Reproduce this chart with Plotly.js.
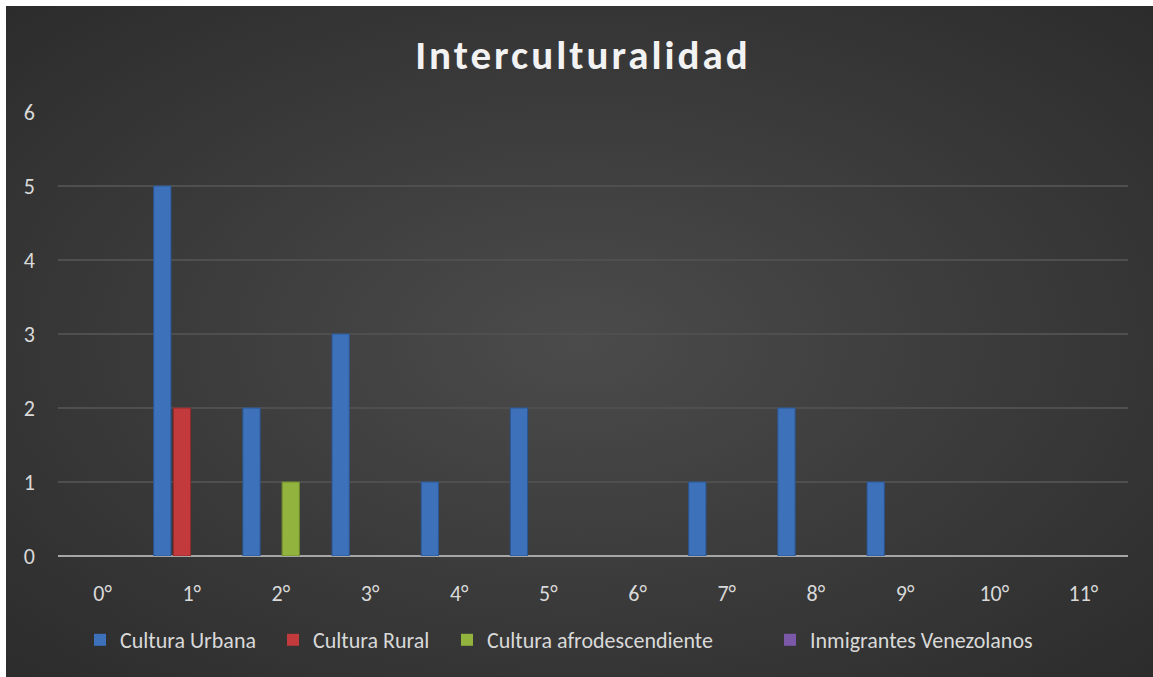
<!DOCTYPE html>
<html>
<head>
<meta charset="utf-8">
<script src="https://cdn.plot.ly/plotly-3.0.1.min.js"></script>
<style>
  html, body { margin: 0; padding: 0; background: #ffffff; }
  #wrap { position: absolute; left: 0; top: 0; width: 1153px; height: 677px; }
  #bg { position: absolute; left: 6px; top: 6px; width: 1147px; height: 671px;
        background: radial-gradient(ellipse 75% 75% at 50% 50%, #4b4b4b 0%, #3c3c3c 45%, #2a2a2a 100%); }
  #chart { position: absolute; left: 0; top: 0; width: 1153px; height: 677px; }
  #chart .gtitle { letter-spacing: 3px; }
</style>
</head>
<body>
<div id="wrap">
  <div id="bg"></div>
  <div id="chart"></div>
</div>
<script>
const categories = ["0°", "1°", "2°", "3°", "4°", "5°", "6°", "7°", "8°", "9°", "10°", "11°"];
const culturaUrbana = [0, 5, 2, 3, 1, 2, 0, 1, 2, 1, 0, 0];
const culturaRural = [0, 2, 0, 0, 0, 0, 0, 0, 0, 0, 0, 0];
const culturaAfro = [0, 0, 1, 0, 0, 0, 0, 0, 0, 0, 0, 0];
const inmigrantesVenezolanos = [0, 0, 0, 0, 0, 0, 0, 0, 0, 0, 0, 0];
const seriesNames = ["Cultura Urbana", "Cultura Rural", "Cultura afrodescendiente", "Inmigrantes Venezolanos"];
const yTicks = [0, 1, 2, 3, 4, 5, 6];

const fills = ["#3d72ba", "#c23a3c", "#93b33f", "#7c59a8"];
const edges = ["#2b5694", "#902a2c", "#6f8b2c", "#5a3e80"];
const values = [culturaUrbana, culturaRural, culturaAfro, inmigrantesVenezolanos];
const legendIds = ["legend", "legend2", "legend3", "legend4"];
const legendLeft = [80, 273, 447, 770];

const traces = values.map((v, i) => ({
  type: "bar",
  name: seriesNames[i],
  x: categories,
  y: v,
  legend: legendIds[i],
  marker: { color: fills[i], line: { color: edges[i], width: v.map(d => d ? 1 : 0) } },
  hoverinfo: "x+y+name"
}));

const font = "Calibri, Carlito, 'Open Sans', sans-serif";

const layout = {
  width: 1153,
  height: 677,
  paper_bgcolor: "rgba(0,0,0,0)",
  plot_bgcolor: "rgba(0,0,0,0)",
  margin: { l: 58, r: 25, t: 112, b: 121, pad: 0 },
  title: {
    text: "<b>Interculturalidad</b>",
    x: 583 / 1153, xref: "container", xanchor: "center",
    y: 1 - 55 / 677, yref: "container", yanchor: "middle",
    font: { family: font, size: 41, color: "#f2f2f2" }
  },
  barmode: "group",
  bargap: 0.12,
  bargroupgap: 0.12,
  showlegend: true,
  xaxis: {
    type: "category",
    tickvals: categories,
    ticktext: categories,
    showgrid: false,
    zeroline: false,
    showline: false,
    ticks: "",
    ticklabelstandoff: 22,
    tickfont: { family: font, size: 22, color: "#d9d9d9" },
    fixedrange: true
  },
  yaxis: {
    range: [0, 6],
    tickvals: yTicks,
    showgrid: true,
    gridcolor: "#4f4f4f",
    gridwidth: 1.3,
    zeroline: true,
    zerolinecolor: "#a6a6a6",
    zerolinewidth: 2,
    showline: false,
    ticks: "",
    ticklabelstandoff: 22,
    tickfont: { family: font, size: 22, color: "#d9d9d9" },
    fixedrange: true
  }
};

legendIds.forEach((id, i) => {
  layout[id] = {
    orientation: "h",
    x: legendLeft[i] / 1153, xanchor: "left", xref: "container",
    y: 1 - 640 / 677, yref: "container", yanchor: "middle",
    font: { family: font, size: 22, color: "#d9d9d9" },
    itemwidth: 30,
    bgcolor: "rgba(0,0,0,0)"
  };
});

Plotly.newPlot("chart", traces, layout, { displayModeBar: false, staticPlot: true });
</script>
</body>
</html>
